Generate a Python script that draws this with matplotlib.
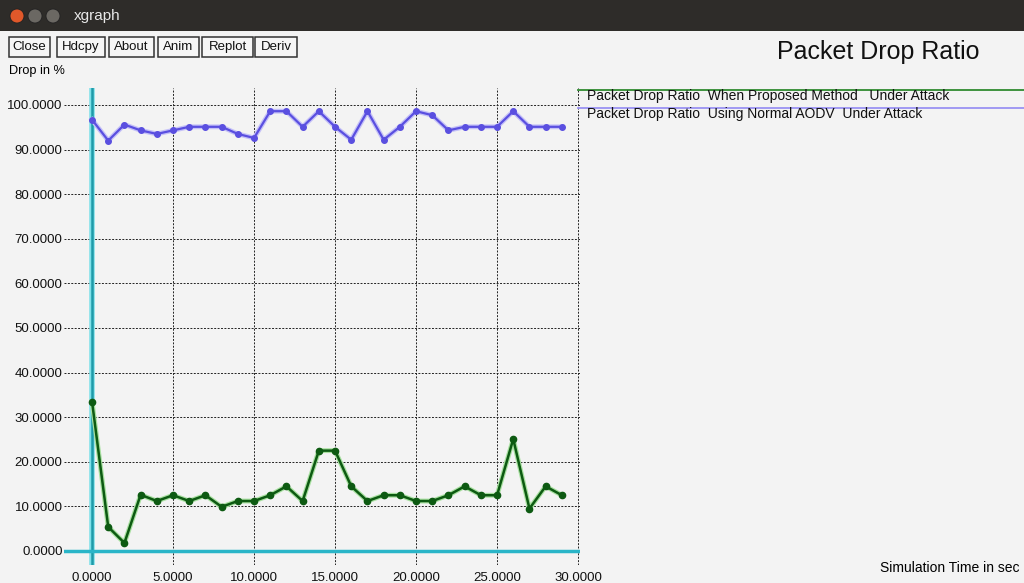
import matplotlib
matplotlib.use("Agg")
import matplotlib.pyplot as plt
from matplotlib.patches import Rectangle, Ellipse
from matplotlib.lines import Line2D

# simulation time (s) and drop ratio (%) for both runs
sim_time = list(range(30))
drop_proposed = [33.5, 5.4, 1.8, 12.6, 11.2, 12.5, 11.2, 12.5, 9.9, 11.2,
                 11.2, 12.5, 14.5, 11.2, 22.5, 22.5, 14.5, 11.2, 12.5, 12.5,
                 11.2, 11.2, 12.5, 14.5, 12.5, 12.5, 25.1, 9.5, 14.5, 12.5]
drop_normal = [96.7, 92.0, 95.6, 94.3, 93.5, 94.3, 95.1, 95.1, 95.1, 93.5,
               92.6, 98.6, 98.6, 95.1, 98.6, 95.1, 92.2, 98.6, 92.2, 95.1,
               98.6, 97.7, 94.3, 95.1, 95.1, 95.1, 98.6, 95.1, 95.1, 95.1]
x_ticks = [0, 5, 10, 15, 20, 25, 30]
y_ticks = [0, 10, 20, 30, 40, 50, 60, 70, 80, 90, 100]
labels = ["Packet Drop Ratio  When Proposed Method   Under Attack",
          "Packet Drop Ratio  Using Normal AODV  Under Attack"]
buttons = ["Close", "Hdcpy", "About", "Anim", "Replot", "Deriv"]

W, H = 1024, 583
BG = "#f3f3f3"
plt.rcParams['font.family'] = ['Liberation Sans', 'DejaVu Sans']


def fx(px):
    return px / W


def fy(py):
    return 1 - py / H


fig = plt.figure(figsize=(W / 100, H / 100), dpi=100, facecolor=BG)

# window title bar
fig.patches.append(Rectangle((0, fy(31)), 1, 31 / H, transform=fig.transFigure,
                             facecolor="#2e2c29", edgecolor="none"))
for cx, col in [(17, "#e0582a"), (35, "#6b6863"), (53, "#6b6863")]:
    fig.patches.append(Ellipse((fx(cx), fy(16)), 14 / W, 14 / H,
                               transform=fig.transFigure, facecolor=col,
                               edgecolor="#222", lw=0.6))
fig.text(fx(74), fy(16), "xgraph", color="#e8e8e8", fontsize=11,
         va="center", ha="left")

# toolbar buttons
edges = [(9, 50), (57, 105), (109, 154), (158, 199), (202, 253), (255, 297)]
for name, (x0, x1) in zip(buttons, edges):
    fig.patches.append(Rectangle((fx(x0), fy(57)), (x1 - x0) / W, 20 / H,
                                 transform=fig.transFigure, facecolor="#f6f6f6",
                                 edgecolor="#333", lw=1.1))
    fig.text(fx((x0 + x1) / 2), fy(47), name, fontsize=9.5, ha="center",
             va="center", color="#111")

fig.text(fx(9), fy(71), "Drop in %", fontsize=9.2, va="center", ha="left")
fig.text(fx(878), fy(52), "Packet Drop Ratio", fontsize=18, va="center",
         ha="center", color="#111")
fig.text(fx(880), fy(568), "Simulation Time in sec", fontsize=10,
         va="center", ha="left")

ax = fig.add_axes([fx(64), 1 - 565 / H, 516 / W, 477 / H], facecolor=BG)
ax.set_xlim(-1.73, 30.12)
ax.set_ylim(-3.14, 103.8)
for s in ax.spines.values():
    s.set_visible(False)

ax.set_xticks(x_ticks)
ax.set_yticks(y_ticks)
ax.set_xticklabels([f"{v:.4f}" for v in x_ticks])
ax.set_yticklabels([f"{v:.4f}" for v in y_ticks])
ax.tick_params(length=0, labelsize=9.5, colors="#111")
ax.tick_params(axis="y", pad=1)
ax.tick_params(axis="x", pad=5)
ax.grid(True, color="#222", linestyle=(0, (2, 1.5)), linewidth=0.7)

# zero axes drawn in cyan
ax.axvline(0, color="#7fe0ea", lw=4, zorder=2)
ax.axvline(0, color="#1e9aa8", lw=1.8, zorder=2)
ax.axhline(0, color="#2ab5c8", lw=2.5, zorder=2)

ax.plot(sim_time, drop_proposed, color="#a8e0a0", lw=3.5, zorder=3)
ax.plot(sim_time, drop_proposed, color="#0d5a12", lw=1.8, marker="o",
        markersize=4.5, zorder=4)
ax.plot(sim_time, drop_normal, color="#c4c0f8", lw=3.5, zorder=3)
ax.plot(sim_time, drop_normal, color="#5a4fe0", lw=1.6, marker="o",
        markersize=4, zorder=4)

# legend entries at the right
for (py, col), lab in zip([(90, "#2f8a2f"), (108, "#9a92f2")], labels):
    fig.lines.append(Line2D([fx(578), 1], [fy(py), fy(py)],
                            transform=fig.transFigure, color=col, lw=1.3))
    fig.text(fx(587), fy(py + 6), lab, fontsize=10, va="center", ha="left",
             color="#111")

fig.savefig("out.png", dpi=100, facecolor=BG)
